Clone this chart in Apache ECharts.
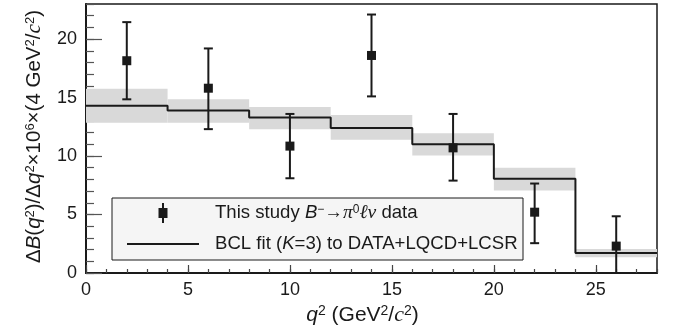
<!DOCTYPE html>
<html>
<head>
<meta charset="utf-8">
<script src="https://cdn.jsdelivr.net/npm/echarts@6/dist/echarts.min.js"></script>
<style>
  html, body { margin: 0; padding: 0; background: #fff; }
  #chart { width: 673px; height: 332px; }
</style>
</head>
<body>
<div id="chart"></div>
<script>
// q2 bins of the fit (GeV^2/c^2)
var binEdges = [0, 4, 8, 12, 16, 20, 24, 28];
// BCL fit, central value and band
var fitVal = [14.3, 13.9, 13.3, 12.4, 11.0, 8.05, 1.7];
var fitLo  = [12.85, 12.85, 12.3, 11.4, 10.05, 7.05, 1.35];
var fitHi  = [15.75, 14.85, 14.2, 13.5, 11.95, 9.0, 2.05];
// measured points
var q2      = [2, 6, 10, 14, 18, 22, 26];
var dataVal = [18.15, 15.8, 10.85, 18.6, 10.7, 5.2, 2.3];
var errLo   = [14.85, 12.3, 8.1, 15.1, 7.9, 2.55, 0];
var errHi   = [21.45, 19.2, 13.6, 22.1, 13.6, 7.65, 4.85];

var xMax = 28, yMax = 23;

var FONT = 'Liberation Sans, Arial, Helvetica, sans-serif';
var MATH = 'Liberation Serif, Times New Roman, serif';

function makeRich(size) {
    return {
        i: { fontStyle: 'italic', fontFamily: FONT, fontSize: size, color: '#1a1a1a' },
        m: { fontStyle: 'italic', fontFamily: MATH, fontSize: size + 1, color: '#1a1a1a' },
        s: { fontFamily: FONT, fontSize: Math.round(size * 0.65), color: '#1a1a1a', padding: [0, 0, 7, 0] }
    };
}

var bandData = [];
var stepData = [];
for (var i = 0; i < fitVal.length; i++) {
    bandData.push([binEdges[i], binEdges[i + 1], fitLo[i], fitHi[i]]);
    stepData.push([binEdges[i], fitVal[i]]);
}
stepData.push([binEdges[binEdges.length - 1], fitVal[fitVal.length - 1]]);

var pointData = [];
for (var j = 0; j < q2.length; j++) {
    pointData.push([q2[j], dataVal[j], errLo[j], errHi[j]]);
}

var myChart = echarts.init(document.getElementById('chart'));

var option = {
    animation: false,
    grid: {
        left: 86, right: 16, top: 4, bottom: 59,
        outerBoundsMode: 'none',
        containLabel: false,
        show: true,
        borderColor: '#1a1a1a',
        borderWidth: 1.5,
        backgroundColor: 'transparent'
    },
    xAxis: [
        {
            type: 'value', min: 0, max: xMax, interval: 5,
            axisLine: { lineStyle: { color: '#1a1a1a', width: 2 } },
            axisTick: { inside: true, length: 8, lineStyle: { color: '#444', width: 1.2 } },
            axisLabel: {
                color: '#1a1a1a', fontSize: 18, fontFamily: FONT, margin: 8,
                showMaxLabel: false,
                formatter: function (v) { return v % 5 === 0 ? String(v) : ''; }
            },
            splitLine: { show: false },
            name: '{i|q}{s|2} (GeV{s|2}/{m|c}{s|2})',
            nameLocation: 'middle',
            nameGap: 28,
            nameTextStyle: {
                color: '#1a1a1a', fontSize: 21, fontFamily: FONT, rich: makeRich(21),
                padding: [0, 18, 0, 0]
            }
        },
        {
            type: 'value', min: 0, max: xMax, interval: 1, position: 'bottom',
            axisLine: { show: false },
            axisTick: { inside: true, length: 4, lineStyle: { color: '#444', width: 1.2 } },
            axisLabel: { show: false },
            splitLine: { show: false }
        }
    ],
    yAxis: [
        {
            type: 'value', min: 0, max: yMax, interval: 5,
            axisLine: { show: true, lineStyle: { color: '#1a1a1a', width: 2 } },
            axisTick: { show: true, inside: true, length: 16, lineStyle: { color: '#555', width: 1.2 } },
            axisLabel: {
                color: '#1a1a1a', fontSize: 18, fontFamily: FONT, margin: 9,
                showMaxLabel: false,
                formatter: function (v) { return v % 5 === 0 ? String(v) : ''; }
            },
            splitLine: { show: false },
            name: 'Δ{i|B}({i|q}{s|2})/Δ{i|q}{s|2}×10{s|6}×(4 GeV{s|2}/{m|c}{s|2})',
            nameLocation: 'middle',
            nameRotate: 90,
            nameGap: 41,
            nameTextStyle: {
                color: '#1a1a1a', fontSize: 20.5, fontFamily: FONT, rich: makeRich(20.5),
                padding: [0, 0, 0, 4]
            }
        },
        {
            type: 'value', min: 0, max: yMax, interval: 1, position: 'left',
            axisLine: { show: false },
            axisTick: { show: true, inside: true, length: 8, lineStyle: { color: '#555', width: 1.2 } },
            axisLabel: { show: false },
            splitLine: { show: false }
        }
    ],
    series: [
        {
            name: 'band',
            type: 'custom',
            data: bandData,
            z: 1,
            renderItem: function (params, api) {
                var p0 = api.coord([api.value(0), api.value(3)]);
                var p1 = api.coord([api.value(1), api.value(2)]);
                return {
                    type: 'rect',
                    shape: { x: p0[0], y: p0[1], width: p1[0] - p0[0], height: p1[1] - p0[1] },
                    style: { fill: '#d9d9d9' }
                };
            }
        },
        {
            name: 'BCL fit',
            type: 'line',
            step: 'end',
            data: stepData,
            symbol: 'none',
            z: 3,
            lineStyle: { color: '#1a1a1a', width: 2 }
        },
        {
            name: 'This study',
            type: 'custom',
            data: pointData,
            z: 4,
            renderItem: function (params, api) {
                var c = api.coord([api.value(0), api.value(1)]);
                var lo = api.coord([api.value(0), api.value(2)]);
                var hi = api.coord([api.value(0), api.value(3)]);
                var cap = 4.5, sq = 4.5;
                var st = { stroke: '#1a1a1a', lineWidth: 2 };
                return {
                    type: 'group',
                    children: [
                        { type: 'line', shape: { x1: c[0], y1: lo[1], x2: c[0], y2: hi[1] }, style: st },
                        { type: 'line', shape: { x1: c[0] - cap, y1: lo[1], x2: c[0] + cap, y2: lo[1] }, style: st },
                        { type: 'line', shape: { x1: c[0] - cap, y1: hi[1], x2: c[0] + cap, y2: hi[1] }, style: st },
                        { type: 'rect', shape: { x: c[0] - sq, y: c[1] - sq, width: 2 * sq, height: 2 * sq }, style: { fill: '#1a1a1a' } }
                    ]
                };
            }
        }
    ],
    graphic: [
        { type: 'rect', z: 100, shape: { x: 112, y: 198, width: 411, height: 62 },
          style: { fill: '#f5f5f5', stroke: '#1a1a1a', lineWidth: 1 } },
        { type: 'line', z: 101, shape: { x1: 163, y1: 203, x2: 163, y2: 223 },
          style: { stroke: '#1a1a1a', lineWidth: 2 } },
        { type: 'rect', z: 101, shape: { x: 158.5, y: 208, width: 9, height: 10 },
          style: { fill: '#1a1a1a' } },
        { type: 'line', z: 101, shape: { x1: 127, y1: 244, x2: 199, y2: 244 },
          style: { stroke: '#1a1a1a', lineWidth: 2 } },
        { type: 'text', z: 101, x: 215, y: 213,
          style: {
              text: 'This study {i|B}{s|−}→{m|π}{s|0}{m|ℓν} data',
              rich: makeRich(18.6), fill: '#1a1a1a', fontSize: 18.6, fontFamily: FONT, verticalAlign: 'middle'
          } },
        { type: 'text', z: 101, x: 215, y: 244,
          style: {
              text: 'BCL fit ({i|K}=3) to DATA+LQCD+LCSR',
              rich: makeRich(18.6), fill: '#1a1a1a', fontSize: 18.6, fontFamily: FONT, verticalAlign: 'middle'
          } }
    ]
};

myChart.setOption(option);
</script>
</body>
</html>
